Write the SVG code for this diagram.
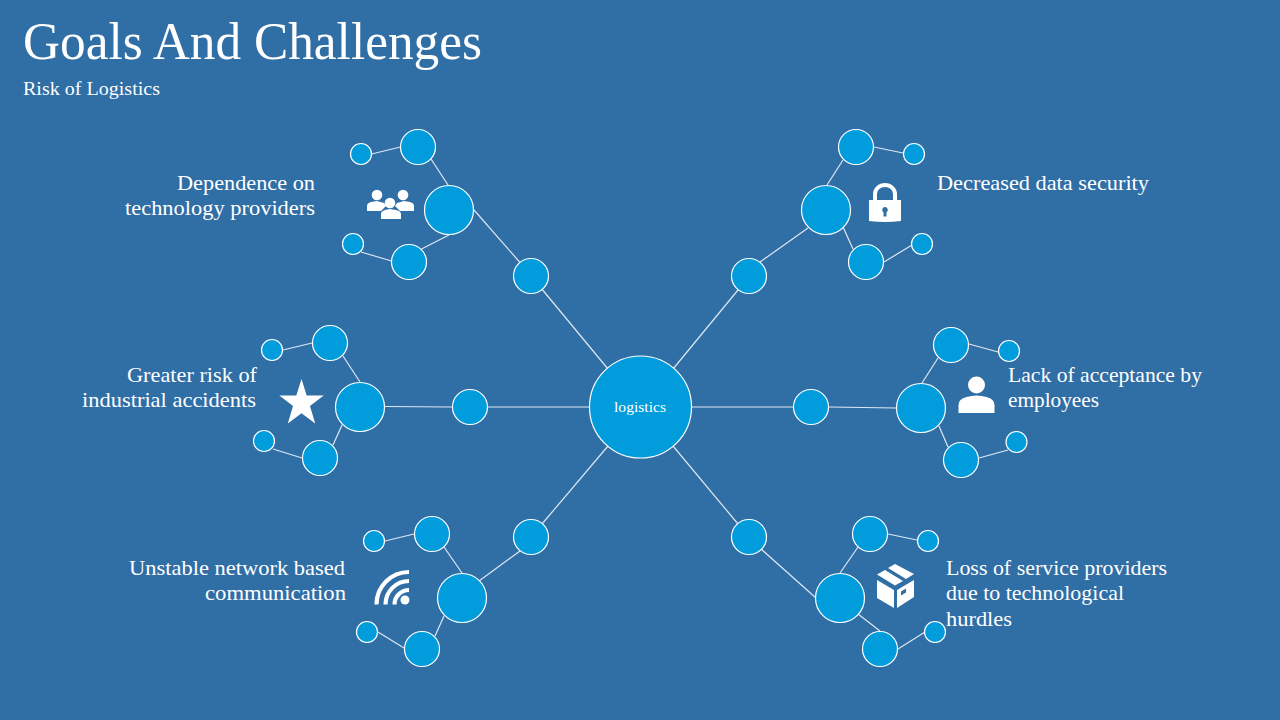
<svg xmlns="http://www.w3.org/2000/svg" width="1280" height="720" viewBox="0 0 1280 720">
<style>
text{font-family:"Liberation Serif","Times New Roman",serif;fill:#fff}
.l{font-size:22px}
.e{text-anchor:end}
.n{fill:#009cdc;stroke:#fff;stroke-width:1.2}
#connectors line{stroke:#dfe8f2;stroke-width:1.2}
.i{fill:#fff}
</style>
<rect width="1280" height="720" fill="#306ea6"/>
<text x="23" y="59" font-size="52" textLength="459" lengthAdjust="spacingAndGlyphs">Goals And Challenges</text>
<text x="23" y="95" font-size="19" textLength="137" lengthAdjust="spacingAndGlyphs">Risk of Logistics</text>
<g id="connectors">
<line x1="608" y1="369" x2="541" y2="288"/><line x1="520" y1="262.500" x2="474" y2="210"/><line x1="448" y1="185" x2="431" y2="159"/><line x1="400.500" y1="147" x2="371.500" y2="154"/><line x1="449" y1="235" x2="421.500" y2="249"/><line x1="391.500" y1="261" x2="361" y2="252"/>
<line x1="673" y1="369" x2="738" y2="290"/><line x1="760" y1="262" x2="808" y2="228"/><line x1="827" y1="185" x2="843" y2="160"/><line x1="874" y1="147" x2="903" y2="153"/><line x1="843" y1="227" x2="853" y2="249"/><line x1="884" y1="262" x2="912" y2="245"/>
<line x1="590" y1="407" x2="488" y2="407"/><line x1="452" y1="407" x2="385" y2="406.500"/><line x1="360" y1="382" x2="343" y2="356"/><line x1="312" y1="343" x2="283" y2="350"/><line x1="342" y1="425" x2="333" y2="445"/><line x1="302" y1="458" x2="273" y2="449"/>
<line x1="691" y1="407" x2="793" y2="407"/><line x1="829" y1="407" x2="896" y2="408"/><line x1="922" y1="383" x2="938" y2="358"/><line x1="969" y1="344" x2="998" y2="352"/><line x1="939" y1="426" x2="948" y2="447"/><line x1="979" y1="458" x2="1008" y2="450"/>
<line x1="608" y1="446" x2="542" y2="524"/><line x1="520" y1="551" x2="479" y2="581"/><line x1="462" y1="573" x2="444" y2="547"/><line x1="414" y1="534" x2="385" y2="541"/><line x1="444" y1="616" x2="435" y2="636"/><line x1="404" y1="648" x2="378" y2="632"/>
<line x1="673" y1="446" x2="738" y2="524"/><line x1="761" y1="549" x2="816" y2="598"/><line x1="840" y1="573" x2="858" y2="547"/><line x1="888" y1="534" x2="917" y2="540"/><line x1="858" y1="614" x2="880" y2="631"/><line x1="898" y1="649" x2="925" y2="632"/>
</g>
<g id="center"><circle class="n" cx="640.500" cy="407" r="51"/><text x="614" y="412" font-size="15" textLength="52" lengthAdjust="spacingAndGlyphs">logistics</text></g>
<g id="branch-top-left">
<circle class="n" cx="531" cy="276" r="17.500"/><circle class="n" cx="449" cy="210" r="24.500"/><circle class="n" cx="418" cy="147" r="17.500"/><circle class="n" cx="361" cy="154" r="10.500"/><circle class="n" cx="409" cy="262" r="17.500"/><circle class="n" cx="353" cy="244" r="10.500"/>
<g class="i"><circle cx="377" cy="195" r="5.300"/><circle cx="403" cy="195" r="5.300"/><path d="M367 211v-5q0-3 4-4l6-1 7 2 2 3-5 5z"/><path d="M414 211v-5q0-3-4-4l-6-1-7 2-2 3 5 5z"/><circle cx="390" cy="203" r="5.300"/><path d="M381 219v-5q0-3 4-4l5-1 6 1q5 1 5 4v5z"/></g>
<text class="l e" x="315" y="190" textLength="138" lengthAdjust="spacingAndGlyphs">Dependence on</text><text class="l e" x="315" y="215" textLength="190" lengthAdjust="spacingAndGlyphs">technology providers</text>
</g>
<g id="branch-top-right">
<circle class="n" cx="749" cy="276" r="17.500"/><circle class="n" cx="826" cy="210" r="24.500"/><circle class="n" cx="856" cy="147" r="17.500"/><circle class="n" cx="914" cy="154" r="10.500"/><circle class="n" cx="866" cy="262" r="17.500"/><circle class="n" cx="922" cy="244" r="10.500"/>
<path d="M875 201v-7a10 9 0 0 1 20 0v7" fill="none" stroke="#fff" stroke-width="4"/><path class="i" fill-rule="evenodd" d="M869 200h32v21q-16 2-32 0zM885 207a3 3 0 0 0-1.500 5.500v4h3v-4a3 3 0 0 0-1.500-5.500z"/>
<text class="l" x="937" y="190" textLength="212" lengthAdjust="spacingAndGlyphs">Decreased data security</text>
</g>
<g id="branch-left">
<circle class="n" cx="470" cy="407" r="17.500"/><circle class="n" cx="360" cy="407" r="24.500"/><circle class="n" cx="330" cy="343" r="17.500"/><circle class="n" cx="272" cy="350" r="10.500"/><circle class="n" cx="320" cy="458" r="17.500"/><circle class="n" cx="264" cy="441" r="10.500"/>
<path class="i" d="M301.500 379l5.200 16.500h17l-13.700 10.500 5.200 17.500-13.700-10.300-13.700 10.300 5.200-17.500-13.700-10.500h17z"/>
<text class="l e" x="257" y="382" textLength="130" lengthAdjust="spacingAndGlyphs">Greater risk of</text><text class="l e" x="256" y="407" textLength="174" lengthAdjust="spacingAndGlyphs">industrial accidents</text>
</g>
<g id="branch-right">
<circle class="n" cx="811" cy="407" r="17.500"/><circle class="n" cx="921" cy="408" r="24.500"/><circle class="n" cx="951" cy="345" r="17.500"/><circle class="n" cx="1009" cy="351" r="10.500"/><circle class="n" cx="961" cy="460" r="17.500"/><circle class="n" cx="1016.500" cy="442" r="10.500"/>
<g class="i"><circle cx="976.500" cy="385" r="8.500"/><path d="M958.500 413v-8q0-6 8-8 10-3 20 0 8 2 8 8v8z"/></g>
<text class="l" x="1008" y="382" textLength="194" lengthAdjust="spacingAndGlyphs">Lack of acceptance by</text><text class="l" x="1008" y="407" textLength="91" lengthAdjust="spacingAndGlyphs">employees</text>
</g>
<g id="branch-bottom-left">
<circle class="n" cx="531" cy="537" r="17.500"/><circle class="n" cx="462" cy="598" r="24.500"/><circle class="n" cx="432" cy="534" r="17.500"/><circle class="n" cx="374" cy="541" r="10.500"/><circle class="n" cx="422" cy="649" r="17.500"/><circle class="n" cx="367" cy="632" r="10.500"/>
<path d="M376.500 604.500A32.500 32.500 0 0 1 409 572M385.500 604.500A23.500 23.500 0 0 1 409 581M394.500 604.500A14.500 14.500 0 0 1 409 590" fill="none" stroke="#fff" stroke-width="4.200"/><circle class="i" cx="405" cy="600" r="4.500"/>
<text class="l e" x="345" y="575" textLength="216" lengthAdjust="spacingAndGlyphs">Unstable network based</text><text class="l e" x="346" y="600" textLength="141" lengthAdjust="spacingAndGlyphs">communication</text>
</g>
<g id="branch-bottom-right">
<circle class="n" cx="749" cy="537" r="17.500"/><circle class="n" cx="840" cy="598" r="24.500"/><circle class="n" cx="870" cy="534" r="17.500"/><circle class="n" cx="928" cy="541" r="10.500"/><circle class="n" cx="880" cy="649" r="17.500"/><circle class="n" cx="935" cy="632" r="10.500"/>
<path class="i" fill-rule="evenodd" d="M877 580l17 10v18l-17-10zM914 580v17l-17 11v-18zM901 591.500l5-3v4l-5 3z"/><path class="i" d="M895 564l-7 4 18 11 8-5zM885 570l-8 4.500 18 11 8-4.500z"/>
<text class="l" x="946" y="575" textLength="221" lengthAdjust="spacingAndGlyphs">Loss of service providers</text><text class="l" x="946" y="600" textLength="178" lengthAdjust="spacingAndGlyphs">due to technological</text><text class="l" x="946" y="626" textLength="66" lengthAdjust="spacingAndGlyphs">hurdles</text>
</g>
</svg>
